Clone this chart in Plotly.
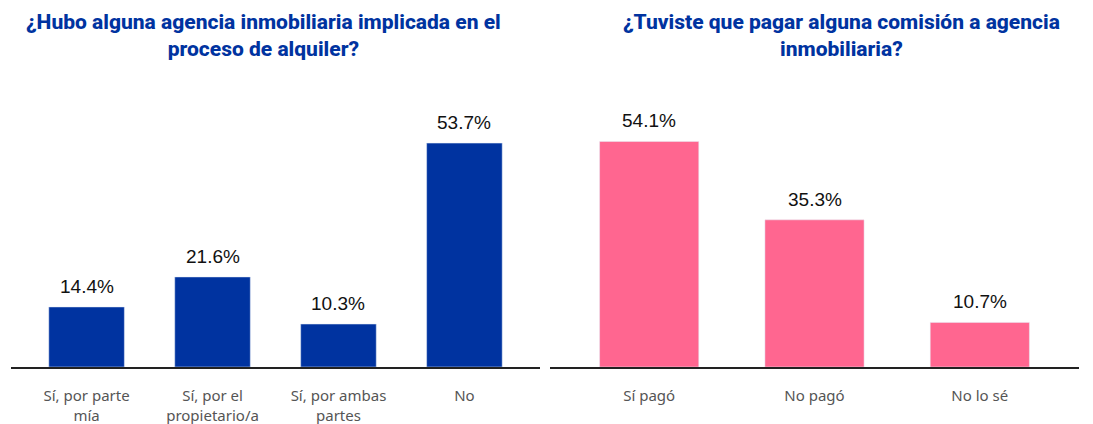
import plotly.graph_objects as go
from plotly.subplots import make_subplots

agency_labels = ["Sí, por parte<br>mía", "Sí, por el<br>propietario/a", "Sí, por ambas<br>partes", "No"]
agency_values = [14.4, 21.6, 10.3, 53.7]

fee_labels = ["Sí pagó", "No pagó", "No lo sé"]
fee_values = [54.1, 35.3, 10.7]

left_title = "¿Hubo alguna agencia inmobiliaria implicada en el<br>proceso de alquiler?"
right_title = "¿Tuviste que pagar alguna comisión a agencia<br>inmobiliaria?"

BLUE = "#0033A0"
PINK = "#FF6690"
W, H = 1093, 424
TOP, BOTTOM = 96, 367  # plot area in pixels from the top

fig = make_subplots(rows=1, cols=2)

fig.add_trace(go.Bar(x=agency_labels, y=agency_values, marker_color=BLUE, width=0.6), row=1, col=1)
fig.add_trace(go.Bar(x=fee_labels, y=fee_values, marker_color=PINK, width=0.6), row=1, col=2)

# value labels above the bars
label_font = dict(family="Liberation Sans, Arial", size=19, color="#111")
for xref, yref, labels, values in [("x", "y", agency_labels, agency_values),
                                   ("x2", "y2", fee_labels, fee_values)]:
    for lab, v in zip(labels, values):
        fig.add_annotation(
            x=lab, y=v, xref=xref, yref=yref, text=f"{v:.1f}%",
            showarrow=False, yanchor="bottom", yshift=8, font=label_font,
        )

tick_font = dict(family="Noto Sans, Open Sans", size=15, color="#555")
fig.update_xaxes(
    showline=True, linecolor="#222", linewidth=2, ticks="", showgrid=False,
    tickfont=tick_font, ticklabelstandoff=14, fixedrange=True,
)
fig.update_xaxes(domain=[11 / W, 540 / W], range=[-0.6, 3.6], row=1, col=1)
fig.update_xaxes(domain=[550 / W, 1079 / W], range=[-0.6, 2.6], row=1, col=2)
fig.update_yaxes(visible=False, range=[0, 65], showgrid=False, fixedrange=True)

title_font = dict(family="Roboto", size=21, color=BLUE, weight=800)
for cx, text in [(263, left_title), (841, right_title)]:
    fig.add_annotation(
        text=text, x=cx / W, y=(BOTTOM - 36) / (BOTTOM - TOP),
        xref="paper", yref="paper", yanchor="middle", xanchor="center",
        showarrow=False, font=title_font, align="center",
    )

fig.update_layout(
    width=W, height=H,
    margin=dict(l=0, r=0, t=TOP, b=H - BOTTOM),
    plot_bgcolor="white", paper_bgcolor="white",
    showlegend=False, bargap=0.4,
)

fig.write_html(
    "out.html",
    config={"displayModeBar": False},
    post_script="document.body.style.margin='0';",
)
